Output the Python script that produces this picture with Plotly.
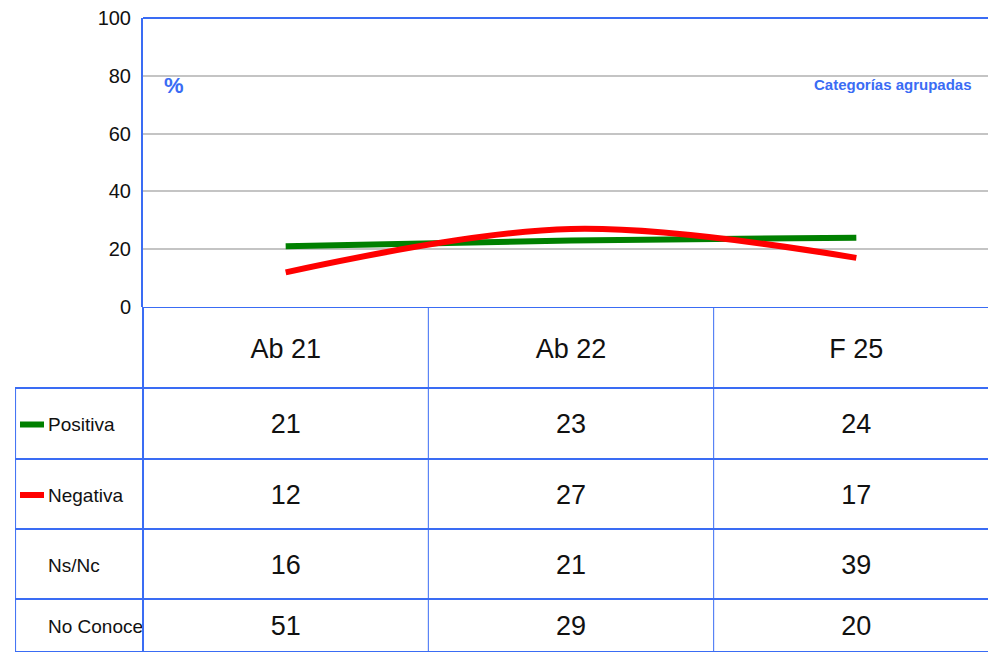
import plotly.graph_objects as go

categories = ["Ab 21", "Ab 22", "F 25"]
positiva = [21, 23, 24]
negativa = [12, 27, 17]
nsnc = [16, 21, 39]
no_conoce = [51, 29, 20]
row_labels = ["Positiva", "Negativa", "Ns/Nc", "No Conoce"]
y_ticks = [0, 20, 40, 60, 80, 100]

W, H = 988, 655                  # figure size
BLUE = "#3a6cf4"
FONT = "Liberation Sans, Arial, sans-serif"
COLW = 285.33                    # px per category column
XMAX = 2.5 - 11 / COLW           # right edge of plot (column continues off-page)

def py(sy):
    return 1 - sy / H

def px(sx):
    return sx / W

# table coordinate system: pixels below the chart bottom (307)
row_bounds = [0, 81, 152, 222, 292, 345]
row_centers = [(row_bounds[i] + row_bounds[i + 1]) / 2 + 3 for i in range(1, 5)]
header_center = 44
x2_min = XMAX - (988 - 15) / COLW
label_x = -0.5 - (143 - 48) / COLW

fig = go.Figure()
fig.add_trace(go.Scatter(x=categories, y=positiva, mode="lines", name="Positiva",
                         line=dict(color="#008000", width=6), xaxis="x", yaxis="y"))
fig.add_trace(go.Scatter(x=categories, y=negativa, mode="lines", name="Negativa",
                         line=dict(color="#ff0000", width=6, shape="spline", smoothing=1),
                         xaxis="x", yaxis="y"))

# table header and values
fig.add_trace(go.Scatter(x=[0, 1, 2], y=[header_center] * 3, mode="text", text=categories,
                         textfont=dict(family=FONT, size=27, color="#111"),
                         xaxis="x2", yaxis="y2", cliponaxis=True, hoverinfo="skip"))
for vals, yc in zip([positiva, negativa, nsnc, no_conoce], row_centers):
    fig.add_trace(go.Scatter(x=[0, 1, 2], y=[yc] * 3, mode="text", text=[str(v) for v in vals],
                             textfont=dict(family=FONT, size=27, color="#111"),
                             xaxis="x2", yaxis="y2", cliponaxis=True, hoverinfo="skip"))
# row labels
fig.add_trace(go.Scatter(x=[label_x] * 4, y=row_centers, mode="text", text=row_labels,
                         textposition="middle right",
                         textfont=dict(family=FONT, size=19, color="#111"),
                         xaxis="x2", yaxis="y2", cliponaxis=True, hoverinfo="skip"))

shapes = []
# chart top border
shapes.append(dict(type="line", xref="paper", yref="paper", x0=px(143), x1=1, y0=py(18), y1=py(18),
                   line=dict(color=BLUE, width=2)))
# table horizontal lines
shapes.append(dict(type="line", xref="x2", yref="y2", x0=-0.5, x1=XMAX, y0=0, y1=0,
                   line=dict(color=BLUE, width=2)))
for yb in row_bounds[1:]:
    shapes.append(dict(type="line", xref="x2", yref="y2", x0=x2_min, x1=XMAX, y0=yb, y1=yb,
                       line=dict(color=BLUE, width=2)))
# table vertical lines
shapes.append(dict(type="line", xref="x2", yref="y2", x0=-0.5, x1=-0.5, y0=0, y1=345,
                   line=dict(color=BLUE, width=2)))
shapes.append(dict(type="line", xref="x2", yref="y2", x0=x2_min + 0.002, x1=x2_min + 0.002, y0=81, y1=345,
                   line=dict(color=BLUE, width=1)))
for xb in [0.5, 1.5]:
    shapes.append(dict(type="line", xref="x2", yref="y2", x0=xb, x1=xb, y0=0, y1=345,
                       line=dict(color=BLUE, width=1)))
# legend glyphs
for col, yc in [("#008000", row_centers[0]), ("#ff0000", row_centers[1])]:
    shapes.append(dict(type="line", xref="x2", yref="y2",
                       x0=-0.5 - (143 - 20) / COLW, x1=-0.5 - (143 - 44) / COLW, y0=yc - 2, y1=yc - 2,
                       line=dict(color=col, width=6)))

annotations = [
    dict(text="<b>%</b>", xref="paper", yref="paper", x=px(162), y=py(85),
         xanchor="left", yanchor="middle", showarrow=False,
         font=dict(family=FONT, size=22, color=BLUE)),
    dict(text="<b>Categorías agrupadas</b>", xref="paper", yref="paper", x=px(974),
         y=py(84), xanchor="right", yanchor="middle", showarrow=False,
         font=dict(family=FONT, size=15, color=BLUE)),
]

fig.update_layout(
    width=W, height=H,
    margin=dict(l=0, r=0, t=0, b=0, autoexpand=False),
    paper_bgcolor="white", plot_bgcolor="white",
    showlegend=False, hovermode=False,
    xaxis=dict(domain=[px(143), 1], range=[-0.5, XMAX], showticklabels=False, showgrid=False,
               zeroline=False, showline=False, ticks="", automargin=False, anchor="y"),
    yaxis=dict(domain=[py(307), py(18)], range=[0, 100], tickvals=y_ticks, anchor="x",
               showgrid=True, gridcolor="#c4c4c4", gridwidth=2, zeroline=False,
               showline=True, linecolor=BLUE, linewidth=2, ticks="", automargin=False,
               ticklabelstandoff=6, ticklabeloverflow="allow",
               tickfont=dict(family=FONT, size=20, color="#111")),
    xaxis2=dict(domain=[px(15), 1], range=[x2_min, XMAX], showticklabels=False, showgrid=False,
                zeroline=False, showline=False, ticks="", automargin=False, anchor="y2"),
    yaxis2=dict(domain=[py(652), py(307)], range=[345, 0], showticklabels=False, anchor="x2",
                showgrid=False, zeroline=False, showline=False, ticks="", automargin=False),
    shapes=shapes,
    annotations=annotations,
)

fig.write_html("out.html", config={"displayModeBar": False, "staticPlot": True},
               post_script="document.body.style.margin='0';document.body.style.overflow='hidden';")
